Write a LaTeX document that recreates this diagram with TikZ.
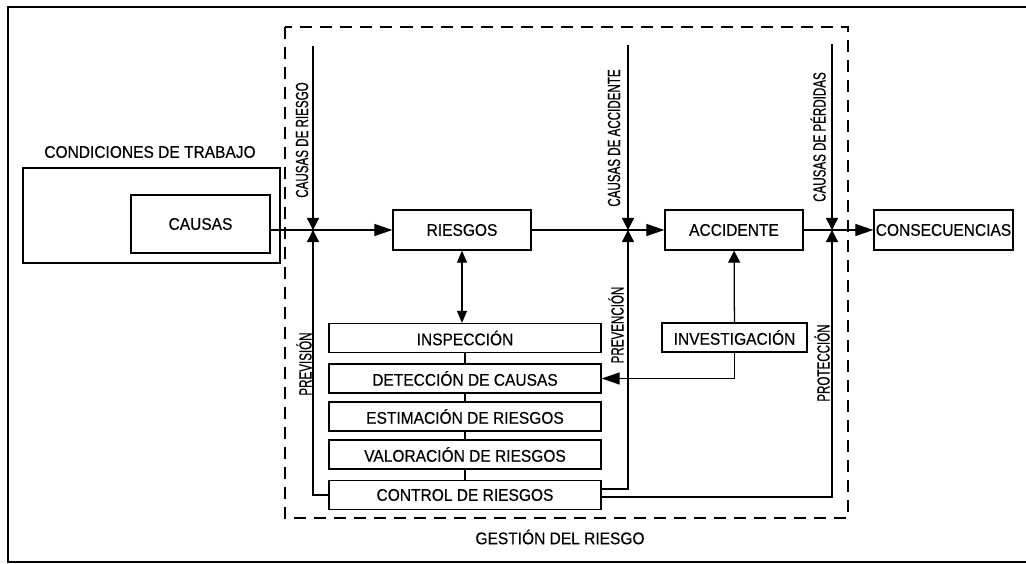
\documentclass[tikz,border=0pt]{standalone}
\usepackage{fontspec}
\setmainfont{Liberation Sans}[FakeStretch=0.92, FakeBold=0.4]
\newfontfamily\narrowfont{Liberation Sans}[FakeStretch=0.66, FakeBold=0.4]
\usetikzlibrary{arrows.meta,calc,positioning}

\begin{document}
\begin{tikzpicture}[
    x=0.025cm, y=-0.025cm,
    box/.style={draw, line width=0.9pt, minimum width=3.45cm, minimum height=1cm, inner sep=0pt, font=\fontsize{12}{14}\selectfont},
    stackbox/.style={box, minimum width=6.8cm, minimum height=0.725cm},
    lbl/.style={inner sep=0pt, font=\fontsize{12}{14}\selectfont},
    vlbl/.style={inner sep=0pt, rotate=90, font=\narrowfont\fontsize{12.5}{14}\selectfont},
    arr/.style={-{Triangle[length=4.5mm, width=3mm]}, line width=0.9pt},
    jarr/.style={-{Triangle[length=3mm, width=3mm]}, line width=0.9pt},
    link/.style={line width=0.9pt},
]
\useasboundingbox (0,0) rectangle (1026,564);
\draw[line width=1.6pt] (1026,7) -- (8,7) -- (8,562) -- (1026,562);

% gestion del riesgo
\draw[line width=0.9pt, dash pattern=on 3mm off 2mm] (285,27) rectangle (848,518);
\node[lbl] (gestion) at (560,537) {GESTIÓN DEL RIESGO};

\node[box, minimum width=6.425cm, minimum height=2.375cm] (cond) at (151.5,215.5) {};
\node[lbl] (condlbl) at (150,152) {CONDICIONES DE TRABAJO};
\node[box, minimum width=3.475cm, minimum height=1.45cm] (causas) at (200.5,224) {CAUSAS};
\node[box] (riesgos) at (462,230) {RIESGOS};
\node[box] (accidente) at (734,230) {ACCIDENTE};
\node[box, minimum width=3.475cm] (consec) at (943.5,230) {CONSECUENCIAS};

\draw[arr] (causas.east |- riesgos.west) -- (riesgos.west);
\draw[arr] (riesgos.east) -- (accidente.west);
\draw[arr] (accidente.east) -- (consec.west);

% etapas
\node[stackbox] (insp) at (465,338) {INSPECCIÓN};
\node[stackbox] (detec) at (465,378.5) {DETECCIÓN DE CAUSAS};
\node[stackbox] (estim) at (465,416.5) {ESTIMACIÓN DE RIESGOS};
\node[stackbox] (valor) at (465,454.5) {VALORACIÓN DE RIESGOS};
\node[stackbox] (control) at (465,495) {CONTROL DE RIESGOS};
\foreach \a/\b in {insp/detec, detec/estim, estim/valor, valor/control}
    \draw[link] (\a) -- (\b);
\draw[{Triangle[length=3mm, width=2.5mm]}-{Triangle[length=3mm, width=2.5mm]}, link] (riesgos.south) -- (riesgos.south |- insp.north);

\node[box, minimum width=3.625cm, minimum height=0.725cm] (invest) at (734.5,337.5) {INVESTIGACIÓN};
\draw[jarr] (invest) -- (accidente);
\draw[arr] (invest.south) |- (detec.east);

% entradas
\coordinate (j1) at (313,230);
\coordinate (j2) at (628,230);
\coordinate (j3) at (832,230);
\coordinate (t1) at (313,46);
\coordinate (t2) at (628,45);
\coordinate (t3) at (832,44);
\draw[jarr] (t1) -- (j1);
\draw[jarr] (t2) -- (j2);
\draw[jarr] (t3) -- (j3);
\draw[jarr] (control.west) -| (j1);
\draw[jarr] ([yshift=1.5mm]control.east) -| (j2);
\draw[jarr] ([yshift=-0.5mm]control.east) -| (j3);

\node[vlbl] (vcr) at (302,140) {CAUSAS DE RIESGO};
\node[vlbl] (vca) at (614,138) {CAUSAS DE ACCIDENTE};
\node[vlbl] (vcp) at (818,137) {CAUSAS DE PÉRDIDAS};
\node[vlbl] (vprev) at (304,364) {PREVISIÓN};
\node[vlbl] (vpren) at (616,325) {PREVENCIÓN};
\node[vlbl] (vprot) at (822,363) {PROTECCIÓN};
\end{tikzpicture}
\end{document}
